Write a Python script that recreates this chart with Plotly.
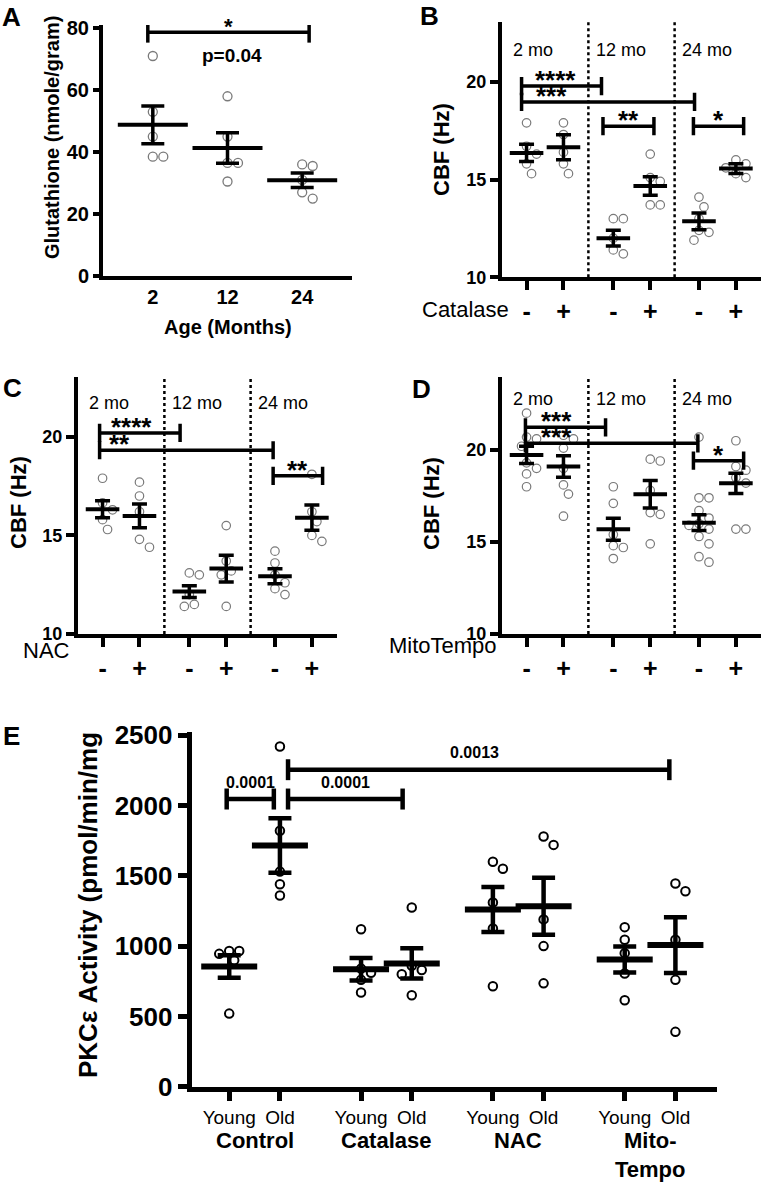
import plotly.graph_objects as go

W, H = 762, 1183
FONT = "Liberation Sans"

# ---------------- data ----------------
# Panel A: glutathione by age
A_ages = ["2", "12", "24"]
A_points = [[71, 53, 45, 38.5, 38.5], [58, 45, 36.5, 36.5, 30.5], [36, 35.5, 31, 27, 25]]
A_mean = [48.8, 41.3, 30.9]
A_sem = [6.1, 4.9, 2.35]

# Panels B-D: CBF (Hz)
CBF_ages = ["2 mo", "12 mo", "24 mo"]
CBF_ticks = ["-", "+", "-", "+", "-", "+"]

B_points = [[17.9, 16.7, 16.3, 15.8, 15.3], [17.9, 17.3, 16.4, 15.8, 15.3],
            [13.0, 13.0, 12.0, 11.4, 11.2], [16.3, 15.1, 14.9, 13.7, 13.7],
            [14.1, 13.6, 13.0, 12.4, 12.3, 11.9], [16.0, 15.8, 15.6, 15.3, 15.1]]
B_mean = [16.36, 16.65, 12.0, 14.67, 12.86, 15.56]
B_sem = [0.44, 0.64, 0.4, 0.47, 0.43, 0.25]

C_points = [[17.9, 16.65, 16.3, 15.8, 15.3], [17.7, 17.0, 16.2, 14.8, 14.4],
            [13.1, 13.0, 12.0, 11.5, 11.4], [15.5, 13.7, 13.2, 13.0, 11.4],
            [14.2, 13.6, 13.0, 12.6, 12.3, 12.0], [18.1, 16.2, 15.7, 15.0, 14.7]]
C_mean = [16.33, 15.99, 12.15, 13.32, 12.93, 15.9]
C_sem = [0.43, 0.6, 0.3, 0.68, 0.38, 0.64]

D_points = [[22.0, 20.7, 20.6, 20.2, 19.3, 19.0, 18.7, 18.0],
            [20.8, 20.6, 20.1, 19.0, 18.1, 17.6, 16.4],
            [18.0, 17.1, 15.4, 14.8, 14.7, 14.1],
            [19.5, 19.4, 17.8, 16.6, 16.5, 14.9],
            [20.7, 17.4, 17.4, 16.7, 16.3, 16.0, 15.9, 15.7, 15.3, 14.9, 14.2, 13.9],
            [20.5, 19.1, 18.9, 18.5, 18.2, 15.7, 15.7]]
D_mean = [19.73, 19.1, 15.69, 17.59, 16.05, 18.19]
D_sem = [0.47, 0.58, 0.6, 0.75, 0.43, 0.55]

# Panel E: PKC epsilon activity
E_ticks = ["Young", "Old"] * 4
E_groups = ["Control", "Catalase", "NAC", "Mito-<br>Tempo"]
E_points = [[965, 965, 945, 900, 520], [2420, 1820, 1530, 1440, 1360],
            [1120, 840, 810, 760, 670], [1275, 860, 830, 800, 650],
            [1600, 1550, 1310, 1125, 715], [1780, 1720, 1190, 1000, 735],
            [1135, 1045, 950, 805, 615], [1445, 1390, 1045, 760, 390]]
E_mean = [855, 1715, 836, 877, 1261, 1284, 905, 1007]
E_sem = [80, 194, 80, 107, 160, 203, 92, 199]

# significance annotations: (x_start, x_end, y, label, label_x or None)
A_sig = [(0.933, 3.093, 78.7, "*", None)]
B_sig = [(0.865, 3.03, 19.78, "****", 1.78), (0.865, 5.55, 18.97, "***", 1.68),
         (3.07, 4.45, 17.73, "**", None), (5.52, 6.88, 17.73, "*", None)]
C_sig = [(0.92, 3.1, 20.2, "****", 1.78), (0.92, 5.62, 19.32, "**", 1.45),
         (5.62, 6.96, 18.02, "**", None)]
D_sig = [(0.97, 3.14, 21.23, "***", 1.81), (0.97, 5.64, 20.36, "***", 1.81),
         (5.52, 6.88, 19.42, "*", None)]
E_sig = [(0.95, 1.88, 2046, "0.0001", None), (2.16, 4.42, 2046, "0.0001", None),
         (2.16, 9.68, 2255, "0.0013", 5.83)]

# ---------------- layout helpers ----------------
A_x = [1, 2, 3]
CBF_x = [1, 2, 3.35, 4.35, 5.67, 6.67]
E_x = [1, 2, 3.6, 4.6, 6.2, 7.2, 8.8, 9.8]


def px_x(p):
    return p / W


def px_y(p):
    return 1 - p / H


panels = {
    # name: (axis id, xdomain px, ydomain px (bottom, top), xrange, yrange)
    "A": ("", (103, 352), (276, 25), [0.333, 3.667], [0, 81]),
    "B": ("2", (502, 761), (277.3, 21.7), [0.335, 7.35], [10, 23.07]),
    "C": ("3", (78, 337), (634, 376.7), [0.335, 7.35], [10, 23.05]),
    "D": ("4", (502, 761), (634, 376.7), [0.335, 7.35], [10, 23.98]),
    "E": ("5", (191.7, 717), (1086.7, 731.7), [0.26, 10.62], [0, 2525]),
}


def scales(name):
    _, xd, yd, xr, yr = panels[name]
    xs = (xd[1] - xd[0]) / (xr[1] - xr[0])
    ys = (yd[0] - yd[1]) / (yr[1] - yr[0])
    return xs, ys


def swarm(vals, xs, ys, d):
    order = sorted(range(len(vals)), key=lambda i: -vals[i])
    placed = []
    offs = [0.0] * len(vals)
    cands = [0.0]
    for m in range(1, 30):
        cands += [m * 0.5 * d, -m * 0.5 * d]
    for i in order:
        y = vals[i] * ys
        for c in cands:
            if all((c - a) ** 2 + (y - b) ** 2 >= d * d * 0.98 for a, b in placed):
                break
        placed.append((c, y))
        offs[i] = c / xs
    return offs


fig = go.Figure()

GRAY = "#7a7a7a"


def add_group_points(name, xpos, points, means, sems, msize, mcolor, mlw,
                     meanlen, meanlw, capw, errthick):
    ax = panels[name][0]
    xs, ys = scales(name)
    for gx, vals in zip(xpos, points):
        offs = swarm(vals, xs, ys, msize + 1.5)
        fig.add_trace(go.Scatter(
            x=[gx + o for o in offs], y=vals, mode="markers",
            xaxis="x" + ax, yaxis="y" + ax, hoverinfo="skip",
            marker=dict(symbol="circle-open", size=msize, color=mcolor,
                        line=dict(width=mlw, color=mcolor))))
    fig.add_trace(go.Scatter(
        x=xpos, y=means, mode="markers", xaxis="x" + ax, yaxis="y" + ax,
        hoverinfo="skip",
        marker=dict(symbol="line-ew", size=meanlen,
                    line=dict(width=meanlw, color="black")),
        error_y=dict(type="data", array=sems, visible=True, color="black",
                     thickness=errthick, width=capw)))


def add_sig(name, sigs, lw, caph, fsize, ysh):
    ax = panels[name][0]
    for x0, x1, y, lab, lx in sigs:
        fig.add_trace(go.Scatter(
            x=[x0, x1], y=[y, y], mode="lines+markers",
            xaxis="x" + ax, yaxis="y" + ax, hoverinfo="skip",
            line=dict(color="black", width=lw),
            marker=dict(symbol="line-ns", size=caph,
                        line=dict(width=lw, color="black"))))
        fig.add_annotation(
            x=(x0 + x1) / 2 if lx is None else lx, y=y,
            xref="x" + ax, yref="y" + ax, text=lab, showarrow=False,
            xanchor="center", yanchor="middle", yshift=ysh,
            font=dict(family=FONT, size=fsize, color="black", weight="bold"))


# Panel A
add_group_points("A", A_x, A_points, A_mean, A_sem, 9, GRAY, 1.3, 50, 4, 11.5, 3.5)
add_sig("A", A_sig, 3.5, 15, 22, 6)

# Panels B-D
for nm, pts, mn, se, sg in [("B", B_points, B_mean, B_sem, B_sig),
                             ("C", C_points, C_mean, C_sem, C_sig),
                             ("D", D_points, D_mean, D_sem, D_sig)]:
    add_group_points(nm, CBF_x, pts, mn, se, 8.5, GRAY, 1.2, 24, 4, 7.5, 3.5)
    add_sig(nm, sg, 3.5, 13, 26, 6)

# Panel E
add_group_points("E", E_x, E_points, E_mean, E_sem, 8.5, "black", 2, 40, 6, 11.5, 4.5)
add_sig("E", E_sig, 4.5, 15, 16, 17)

# ---------------- axes ----------------
layout = dict(width=W, height=H,
              margin=dict(l=0, r=0, t=0, b=0, pad=0, autoexpand=False),
              paper_bgcolor="white", plot_bgcolor="white", showlegend=False)


def axis_common(lw):
    return dict(showgrid=False, zeroline=False, showline=True, linecolor="black",
                linewidth=lw, ticks="outside", tickcolor="black", fixedrange=True,
                automargin=False)


for nm, (ax, xd, yd, xr, yr) in panels.items():
    xk = "xaxis" + ax
    yk = "yaxis" + ax
    big = nm == "E"
    xa = axis_common(5 if big else 4)
    ya = axis_common(5 if big else 4)
    xa.update(domain=[px_x(xd[0]), px_x(xd[1])], range=xr,
              anchor="y" + ax)
    ya.update(domain=[px_y(yd[0]), px_y(yd[1])], range=yr,
              anchor="x" + ax)
    if nm == "A":
        xa.update(tickvals=A_x, ticktext=A_ages, ticks="",
                  tickfont=dict(family=FONT, size=20, color="black", weight="bold"))
        ya.update(tickvals=[0, 20, 40, 60, 80], ticklen=6, tickwidth=3.5,
                  tickfont=dict(family=FONT, size=20, color="black", weight="bold"))
    elif nm == "E":
        xa.update(tickvals=E_x, ticktext=E_ticks, ticklen=9, tickwidth=5,
                  tickfont=dict(family=FONT, size=19, color="black"))
        ya.update(tickvals=[0, 500, 1000, 1500, 2000, 2500], ticklen=9, tickwidth=5,
                  tickfont=dict(family=FONT, size=26, color="black", weight="bold"))
    else:
        xa.update(tickvals=CBF_x, ticktext=CBF_ticks, ticklen=9, tickwidth=4,
                  tickfont=dict(family=FONT, size=25, color="black", weight="bold"))
        ya.update(tickvals=[10, 15, 20], ticklen=8, tickwidth=3.5,
                  tickfont=dict(family=FONT, size=18, color="black", weight="bold"))
    layout[xk] = xa
    layout[yk] = ya

fig.update_layout(**layout)

# dotted separators between age groups in B-D
for nm in ["B", "C", "D"]:
    ax = panels[nm][0]
    for i in (1, 3):
        sep = (CBF_x[i] + CBF_x[i + 1]) / 2
        fig.add_shape(type="line", xref="x" + ax, yref="y" + ax + " domain",
                      x0=sep, x1=sep, y0=0, y1=1,
                      line=dict(color="black", width=2.5, dash="dot"))

# age labels inside B-D
age_label_x = [0.59, 2.84, 5.15]
for nm, yv in [("B", 21.62), ("C", 21.71), ("D", 22.77)]:
    ax = panels[nm][0]
    for lx, lab in zip(age_label_x, CBF_ages):
        fig.add_annotation(x=lx, y=yv, xref="x" + ax, yref="y" + ax, text=lab,
                           showarrow=False, xanchor="left", yanchor="middle",
                           font=dict(family=FONT, size=18, color="black"))


def ann(text, x, y, size, bold=True, angle=0, xanchor="center", yanchor="middle"):
    fig.add_annotation(x=px_x(x), y=px_y(y), xref="paper", yref="paper", text=text,
                       showarrow=False, textangle=angle, xanchor=xanchor,
                       yanchor=yanchor,
                       font=dict(family=FONT, size=size, color="black",
                                 weight="bold" if bold else "normal"))


# panel letters
for lt, x, y in [("A", 0, 17), ("B", 418, 16), ("C", 1, 388), ("D", 410, 389), ("E", 1, 736)]:
    ann(lt, x, y, 26, xanchor="left")

# axis titles and labels
ann("Glutathione (nmole/gram)", 52, 138, 20, angle=-90)
ann("Age (Months)", 228, 327, 20)
ann("p=0.04", 232, 55, 19)
ann("CBF (Hz)", 441, 150, 22, angle=-90)
ann("CBF (Hz)", 18, 503, 22, angle=-90)
ann("CBF (Hz)", 431, 503, 22, angle=-90)
ann("Catalase", 511, 310, 22, bold=False, xanchor="right")
ann("NAC", 72, 650, 22, bold=False, xanchor="right")
ann("MitoTempo", 499, 645, 22, bold=False, xanchor="right")
ann("PKCε Activity (pmol/min/mg", 88, 905, 26, angle=-90)

# E group names under tick pairs
for i, g in enumerate(E_groups):
    cx = (E_x[2 * i] + E_x[2 * i + 1]) / 2
    fig.add_annotation(x=cx, y=0, xref="x5", yref="y5", text=g, showarrow=False,
                       xanchor="center", yanchor="top", yshift=-40, borderpad=0,
                       font=dict(family=FONT, size=22, color="black", weight="bold"))

fig.write_html("out.html", config={"displayModeBar": False},
               post_script="document.body.style.margin='0px';"
                           "document.body.style.overflow='hidden';")
